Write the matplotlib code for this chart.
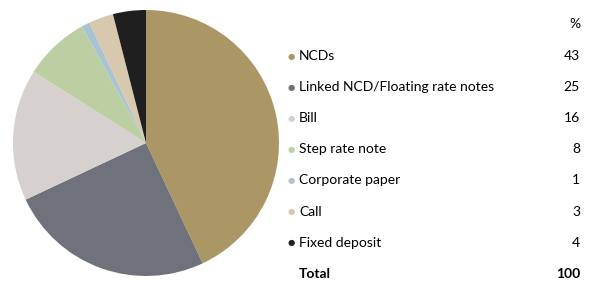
import matplotlib
matplotlib.use("Agg")
import matplotlib.pyplot as plt

labels = ["NCDs", "Linked NCD/Floating rate notes", "Bill", "Step rate note",
          "Corporate paper", "Call", "Fixed deposit"]
values = [43, 25, 16, 8, 1, 3, 4]
colors = ["#AB9765", "#6F727A", "#D6D1CF", "#BCCFA3", "#A8C3D2", "#D8C8AD", "#1F1F1F"]
total_label = "Total"
total_value = 100

plt.rcParams['font.family'] = ['Lato', 'DejaVu Sans']

W, H = 589, 282
fig = plt.figure(figsize=(W / 100, H / 100), dpi=100)

# pie
ax = fig.add_axes([13 / W, 6 / H, 266 / W, 266 / H])
ax.pie(values, colors=colors, startangle=90, counterclock=False, radius=1,
       wedgeprops=dict(linewidth=0))
ax.set_xlim(-1, 1)
ax.set_ylim(-1, 1)
ax.set_aspect("equal")
ax.axis("off")

# table-style legend
fs = 10
fig.text(580 / W, 1 - 24 / H, "%", ha="right", va="center", fontsize=fs, color="#000000")
row_y = 56
step = 31.1
for i, (lab, val, col) in enumerate(zip(labels, values, colors)):
    y = 1 - (row_y + i * step) / H
    fig.text(291 / W, y, "\u25CF", ha="center", va="center", fontsize=6,
             color=col, family="DejaVu Sans")
    fig.text(299 / W, y, lab, ha="left", va="center", fontsize=fs, color="#000000")
    fig.text(580 / W, y, str(val), ha="right", va="center", fontsize=fs, color="#000000")
y = 1 - (row_y + len(labels) * step) / H
fig.text(299 / W, y, total_label, ha="left", va="center", fontsize=fs,
         fontweight="bold", color="#000000")
fig.text(580 / W, y, str(total_value), ha="right", va="center", fontsize=fs,
         fontweight="bold", color="#000000")

fig.savefig("out.png", dpi=100)
